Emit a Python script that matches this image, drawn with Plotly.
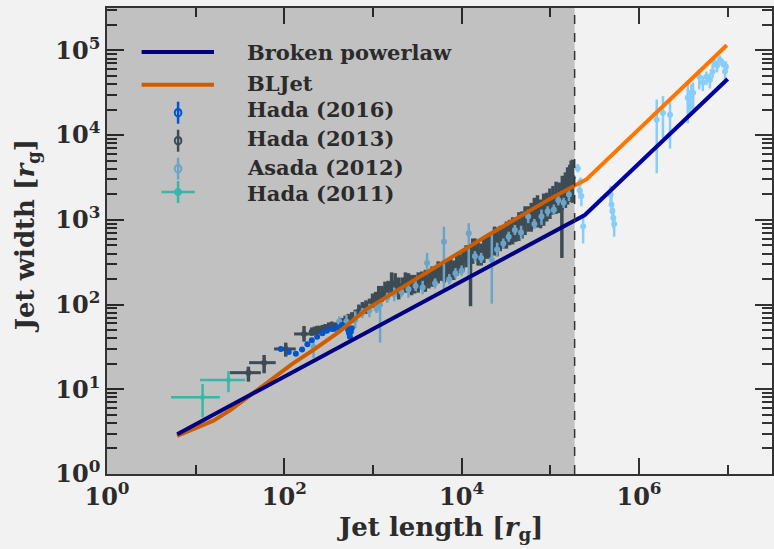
import numpy as np
import plotly.graph_objects as go

# ---------------- data ----------------
# Broken power-law model (jet length, jet width) in r_g
bpl_x = [6.2, 2.45e5, 1.0e7]
bpl_y = [2.95, 1.14e3, 4.6e4]

# BLJet model, log10 values
bljet_logx = [0.79, 1.0, 1.2, 1.4, 1.6, 1.83, 2.09, 2.35, 2.62, 2.92, 3.29, 3.67, 4.0, 4.3, 4.6, 5.0, 5.41, 5.76, 6.99]
bljet_logy = [0.45, 0.54, 0.63, 0.76, 0.92, 1.10, 1.30, 1.48, 1.68, 1.94, 2.18, 2.42, 2.63, 2.82, 3.01, 3.25, 3.48, 3.83, 5.06]

# Hada (2013): log10 x, log10 y, y err up/down (dex), x err up/down (dex)
h13_lx = [1.595, 1.772, 2.016, 2.222, 2.31, 2.37, 2.43, 2.50, 2.57, 2.65, 2.72, 2.80, 2.88, 2.96, 3.03, 3.10, 3.17,
          3.25, 3.33, 3.40, 3.47, 3.55, 3.63, 3.70, 3.77, 3.84, 3.91, 3.98, 4.05, 4.10, 4.15, 4.22, 4.28, 4.34, 4.40,
          4.47, 4.54, 4.61, 4.68, 4.75, 4.82, 4.89, 4.96, 5.03, 5.10, 5.13, 5.17, 5.22, 5.25,
          2.34, 2.40, 2.46, 2.535, 2.61, 2.685, 2.76, 2.84, 2.92, 2.995, 3.065, 3.135, 3.21, 3.29, 3.365, 3.435,
          3.51, 3.59, 3.665, 3.735, 3.805, 3.875, 3.945, 4.015, 4.125, 4.185, 4.25, 4.31, 4.37, 4.435, 4.505,
          4.575, 4.645, 4.715, 4.785, 4.855, 4.925, 4.995, 5.065, 5.135, 5.195, 5.235]
h13_ly = [1.196, 1.314, 1.476, 1.653, 1.68, 1.69, 1.71, 1.73, 1.74, 1.78, 1.82, 1.88, 1.95, 2.00, 2.06, 2.12, 2.20,
          2.25, 2.22, 2.26, 2.25, 2.30, 2.29, 2.35, 2.38, 2.42, 2.40, 2.49, 2.58, 2.60, 2.64, 2.60, 2.66, 2.72, 2.77,
          2.80, 2.84, 2.90, 2.96, 3.00, 3.08, 3.10, 3.16, 3.22, 3.28, 3.25, 3.36, 3.45, 3.50,
          1.69, 1.70, 1.72, 1.74, 1.76, 1.80, 1.85, 1.92, 1.97, 2.04, 2.10, 2.16, 2.24, 2.20, 2.24, 2.23,
          2.28, 2.27, 2.33, 2.37, 2.40, 2.43, 2.46, 2.53, 2.62, 2.62, 2.63, 2.70, 2.74, 2.79, 2.82,
          2.87, 2.93, 2.98, 3.04, 3.09, 3.13, 3.19, 3.25, 3.32, 3.40, 3.48]
h13_yup = [0.071, 0.091, 0.074, 0.094, 0.05, 0.06, 0.05, 0.06, 0.05, 0.06, 0.07, 0.06, 0.08, 0.07, 0.09, 0.10, 0.08,
           0.12, 0.10, 0.11, 0.10, 0.09, 0.12, 0.10, 0.11, 0.10, 0.12, 0.10, 0.12, 0.10, 0.14, 0.12, 0.16, 0.10, 0.14,
           0.12, 0.16, 0.12, 0.14, 0.16, 0.18, 0.14, 0.16, 0.18, 0.16, 0.12, 0.20, 0.20, 0.21,
           0.05, 0.05, 0.05, 0.06, 0.05, 0.07, 0.06, 0.08, 0.08, 0.09, 0.12, 0.11, 0.14, 0.12, 0.14, 0.12,
           0.10, 0.14, 0.12, 0.14, 0.12, 0.12, 0.14, 0.12, 0.16, 0.14, 0.16, 0.14, 0.18, 0.14, 0.16,
           0.16, 0.16, 0.18, 0.16, 0.20, 0.18, 0.18, 0.20, 0.20, 0.22, 0.22]
h13_ydn = [0.106, 0.125, 0.091, 0.091, 0.05, 0.04, 0.05, 0.05, 0.06, 0.05, 0.06, 0.08, 0.07, 0.08, 0.08, 0.09, 0.10,
           0.12, 0.10, 0.09, 0.12, 0.10, 0.10, 0.12, 0.10, 0.13, 0.11, 0.12, 0.14, 0.62, 0.12, 0.14, 0.12, 0.14, 0.20,
           0.14, 0.14, 0.16, 0.18, 0.14, 0.16, 0.20, 0.18, 0.16, 0.20, 0.70, 0.22, 0.24, 0.30,
           0.05, 0.05, 0.05, 0.05, 0.06, 0.06, 0.07, 0.07, 0.08, 0.08, 0.10, 0.10, 0.12, 0.14, 0.10, 0.12,
           0.14, 0.12, 0.12, 0.12, 0.14, 0.12, 0.12, 0.14, 0.14, 0.16, 0.14, 0.16, 0.16, 0.16, 0.16,
           0.16, 0.18, 0.16, 0.18, 0.18, 0.20, 0.18, 0.18, 0.20, 0.22, 0.26]
h13_xup = [0.140, 0.131, 0.112, 0.108] + [0.03] * 87
h13_xdn = [0.209, 0.169, 0.132, 0.112] + [0.03] * 87

# Asada (2012): log10 x, log10 y, y err up/down (dex)
as_lx = [2.33, 2.62, 2.70, 2.80, 2.88, 2.96, 3.04, 3.08, 3.16, 3.24, 3.32, 3.40, 3.48, 3.56, 3.61, 3.70, 3.80, 3.86,
         3.93, 4.00, 4.08, 4.15, 4.22, 4.34, 4.40, 4.47, 4.53, 4.60, 4.67, 4.75, 4.82, 4.90, 4.97, 5.04, 5.09, 5.15,
         5.21, 5.31, 5.33, 5.34, 5.35, 5.37, 5.68, 5.69, 5.70, 5.71, 5.72, 6.20, 6.27, 6.35, 6.55, 6.57, 6.59, 6.61,
         6.68, 6.72, 6.76, 6.80, 6.83, 6.85, 6.88, 6.91, 6.94, 6.97, 6.98]
as_ly = [1.50, 1.80, 1.80, 1.82, 1.90, 1.93, 1.95, 2.00, 2.08, 2.12, 2.15, 2.18, 2.22, 2.20, 2.49, 2.25, 2.74, 2.30,
         2.37, 2.40, 2.84, 2.57, 2.55, 2.53, 2.65, 2.72, 2.80, 2.88, 2.85, 3.04, 2.95, 3.04, 3.10, 3.12, 3.23, 3.20,
         3.30, 3.61, 3.35, 3.45, 3.28, 2.92, 3.30, 3.18, 3.10, 3.02, 2.95, 4.18, 4.26, 4.24, 4.44, 4.38, 4.45, 4.50,
         4.69, 4.62, 4.69, 4.65, 4.75, 4.85, 4.82, 4.89, 4.85, 4.75, 4.81]
as_yup = [0.05, 0.06, 0.08, 0.10, 0.06, 0.08, 0.05, 0.05, 0.06, 0.08, 0.06, 0.06, 0.06, 0.08, 0.12, 0.06, 0.18, 0.06,
          0.06, 0.06, 0.12, 0.06, 0.06, 0.31, 0.08, 0.06, 0.06, 0.06, 0.08, 0.08, 0.06, 0.08, 0.06, 0.06, 0.06, 0.06,
          0.08, 0.05, 0.10, 0.05, 0.08, 0.14, 0.10, 0.10, 0.10, 0.12, 0.10, 0.24, 0.20, 0.20, 0.20, 0.15, 0.15, 0.12,
          0.06, 0.08, 0.06, 0.08, 0.08, 0.05, 0.05, 0.05, 0.05, 0.06, 0.06]
as_ydn = [0.13, 0.06, 0.08, 0.10, 0.06, 0.08, 0.05, 0.45, 0.06, 0.08, 0.06, 0.10, 0.06, 0.08, 0.12, 0.06, 0.57, 0.06,
          0.06, 0.06, 0.51, 0.06, 0.06, 0.52, 0.08, 0.06, 0.06, 0.06, 0.08, 0.08, 0.06, 0.10, 0.06, 0.06, 0.06, 0.06,
          0.08, 0.05, 0.10, 0.05, 0.12, 0.20, 0.10, 0.10, 0.10, 0.12, 0.15, 0.63, 0.30, 0.40, 0.30, 0.15, 0.15, 0.20,
          0.15, 0.10, 0.10, 0.10, 0.08, 0.05, 0.08, 0.05, 0.05, 0.10, 0.06]

# Hada (2016): log10 x, log10 y
h16_lx = [1.96, 2.05, 2.13, 2.20, 2.26, 2.31, 2.37, 2.43, 2.48, 2.54, 2.60, 2.65, 2.70, 2.72, 2.73, 2.74, 2.75, 2.76]
h16_ly = [1.476, 1.44, 1.42, 1.47, 1.53, 1.58, 1.62, 1.66, 1.69, 1.71, 1.73, 1.76, 1.74, 1.70, 1.66, 1.62, 1.68, 1.72]

# Hada (2011): log10 x, log10 y, errors (dex)
h11_lx = [1.078, 1.37]
h11_ly = [0.906, 1.11]
h11_yup = [0.157, 0.106]
h11_ydn = [0.237, 0.145]
h11_xup = [0.195, 0.188]
h11_xdn = [0.356, 0.322]

# region boundary (jet length)
boundary_x = 1.88e5

# ---------------- colours ----------------
C_BPL = "#0000a0"
C_BLJ = "#ff7500"
C_H16 = "#006aff"
C_H13 = "#4c5e6a"
C_AS = "#87cefa"
C_H11 = "#48e4d2"
TXT = "#2b2b2b"
FONT = "DejaVu Serif"


def lin(v):
    return 10 ** np.asarray(v, dtype=float)


def errs(ly, up, dn):
    y = lin(ly)
    return lin(np.asarray(ly) + np.asarray(up)) - y, y - lin(np.asarray(ly) - np.asarray(dn))


fig = go.Figure()

# Hada 2013
yp, ym = errs(h13_ly, h13_yup, h13_ydn)
xp, xm = errs(h13_lx, h13_xup, h13_xdn)
fig.add_trace(go.Scatter(x=lin(h13_lx), y=lin(h13_ly), mode="markers", showlegend=False,
                         marker=dict(color=C_H13, size=6),
                         error_y=dict(type="data", array=yp, arrayminus=ym, color=C_H13, thickness=3.5, width=0),
                         error_x=dict(type="data", array=xp, arrayminus=xm, color=C_H13, thickness=3, width=0)))
# Asada 2012
yp, ym = errs(as_ly, as_yup, as_ydn)
fig.add_trace(go.Scatter(x=lin(as_lx), y=lin(as_ly), mode="markers", showlegend=False,
                         marker=dict(color=C_AS, size=6),
                         error_y=dict(type="data", array=yp, arrayminus=ym, color=C_AS, thickness=2.5, width=0)))
# Hada 2016
yp, ym = errs(h16_ly, [0.02] * len(h16_ly), [0.02] * len(h16_ly))
fig.add_trace(go.Scatter(x=lin(h16_lx), y=lin(h16_ly), mode="markers", showlegend=False,
                         marker=dict(color=C_H16, size=6),
                         error_y=dict(type="data", array=yp, arrayminus=ym, color=C_H16, thickness=2, width=0)))
# Hada 2011
yp, ym = errs(h11_ly, h11_yup, h11_ydn)
xp, xm = errs(h11_lx, h11_xup, h11_xdn)
fig.add_trace(go.Scatter(x=lin(h11_lx), y=lin(h11_ly), mode="markers", showlegend=False,
                         marker=dict(color=C_H11, size=5),
                         error_y=dict(type="data", array=yp, arrayminus=ym, color=C_H11, thickness=2.5, width=0),
                         error_x=dict(type="data", array=xp, arrayminus=xm, color=C_H11, thickness=2.5, width=0)))
# Models
fig.add_trace(go.Scatter(x=lin(bljet_logx), y=lin(bljet_logy), mode="lines", showlegend=False,
                         line=dict(color=C_BLJ, width=4)))
fig.add_trace(go.Scatter(x=bpl_x, y=bpl_y, mode="lines", showlegend=False,
                         line=dict(color=C_BPL, width=4)))

# ---------------- custom legend (pixel positions -> paper) ----------------
L, T, W, H = 107, 8, 667, 466


def px(x):
    return (x - L) / W


def py(y):
    return (T + H - y) / H


shapes = []
annotations = []
leg_text_x = 245
leg_font = dict(family=FONT, size=21, color=TXT, weight="bold")
# line entries
for yy, col, lab, ty in [(52, C_BPL, "Broken powerlaw", 52), (84.7, C_BLJ, "BLJet", 83)]:
    shapes.append(dict(type="line", xref="paper", yref="paper", x0=px(141.7), x1=px(214.3), y0=py(yy), y1=py(yy),
                       line=dict(color=col, width=4)))
    annotations.append(dict(text=lab, xref="paper", yref="paper", x=px(leg_text_x), y=py(ty), xanchor="left",
                            yanchor="middle", showarrow=False, font=leg_font))
# point entries
mx = 178.3
for yy, col, lab, ty, cross in [(112.7, C_H16, "Hada (2016)", 110, False), (140.7, C_H13, "Hada (2013)", 138, False),
                                (168.7, C_AS, "Asada (2012)", 167, False), (192.0, C_H11, "Hada (2011)", 194, True)]:
    shapes.append(dict(type="line", xref="paper", yref="paper", x0=px(mx), x1=px(mx), y0=py(yy - 11), y1=py(yy + 11),
                       line=dict(color=col, width=2.5)))
    if cross:
        shapes.append(dict(type="line", xref="paper", yref="paper", x0=px(mx - 16.7), x1=px(mx + 16.7), y0=py(yy),
                           y1=py(yy), line=dict(color=col, width=2.5)))
        shapes.append(dict(type="circle", xref="paper", yref="paper", x0=px(mx - 3.5), x1=px(mx + 3.5),
                           y0=py(yy - 3.5), y1=py(yy + 3.5), fillcolor=col, line=dict(color=col, width=1)))
    else:
        shapes.append(dict(type="circle", xref="paper", yref="paper", x0=px(mx - 3.3), x1=px(mx + 3.3),
                           y0=py(yy - 3.8), y1=py(yy + 3.8), fillcolor="rgba(0,0,0,0)", line=dict(color=col, width=2)))
    annotations.append(dict(text=lab, xref="paper", yref="paper", x=px(leg_text_x), y=py(ty), xanchor="left",
                            yanchor="middle", showarrow=False, font=leg_font))

# axis titles
title_font = dict(family=FONT, size=26, color=TXT, weight="bold")
annotations.append(dict(text="Jet length [<i>r</i><sub>g</sub>]", xref="paper", yref="paper", x=px(441), y=py(528),
                        xanchor="center", yanchor="middle", showarrow=False, font=title_font))
annotations.append(dict(text="Jet width [<i>r</i><sub>g</sub>]", xref="paper", yref="paper", x=px(26), y=py(236),
                        xanchor="center", yanchor="middle", showarrow=False, textangle=-90, font=title_font))

# shaded region (semi-transparent overlay) and dashed boundary
shapes.append(dict(type="rect", xref="x", yref="paper", x0=1, x1=boundary_x, y0=0, y1=1,
                   fillcolor="rgba(0,0,0,0.2)", line=dict(width=0), layer="above"))
shapes.append(dict(type="line", xref="x", yref="paper", x0=boundary_x, x1=boundary_x, y0=0, y1=1,
                   line=dict(color="#333333", width=1.5, dash="dash"), layer="above"))

tickfont = dict(family=FONT, size=24, color=TXT, weight="bold")
fig.update_layout(
    width=774, height=549,
    margin=dict(l=L, r=774 - L - W, t=T, b=549 - T - H),
    paper_bgcolor="#f2f2f2", plot_bgcolor="#f2f2f2",
    shapes=shapes, annotations=annotations, showlegend=False,
    xaxis=dict(type="log", range=[0, 7.5], showgrid=False, zeroline=False,
               showline=True, linecolor="#333333", linewidth=1.5, mirror="ticks",
               ticks="inside", ticklen=16, tickwidth=1.5, tickcolor="#333333",
               tickvals=[1, 1e2, 1e4, 1e6],
               ticktext=["10<sup>0</sup>", "10<sup>2</sup>", "10<sup>4</sup>", "10<sup>6</sup>"],
               tickfont=tickfont,
               minor=dict(tickvals=[10, 1e3, 1e5, 1e7], ticks="inside", ticklen=9, tickwidth=1.5,
                          tickcolor="#333333", showgrid=False)),
    yaxis=dict(type="log", range=[0, 5.5], showgrid=False, zeroline=False,
               showline=True, linecolor="#333333", linewidth=1.5, mirror="ticks",
               ticks="inside", ticklen=17, tickwidth=1.5, tickcolor="#333333",
               tickvals=[1, 10, 1e2, 1e3, 1e4, 1e5],
               ticktext=["10<sup>0</sup>", "10<sup>1</sup>", "10<sup>2</sup>", "10<sup>3</sup>",
                         "10<sup>4</sup>", "10<sup>5</sup>"],
               tickfont=tickfont,
               minor=dict(dtick="D1", ticks="inside", ticklen=10, tickwidth=1.5, tickcolor="#333333",
                          showgrid=False)),
)

fig.write_html("out.html")
